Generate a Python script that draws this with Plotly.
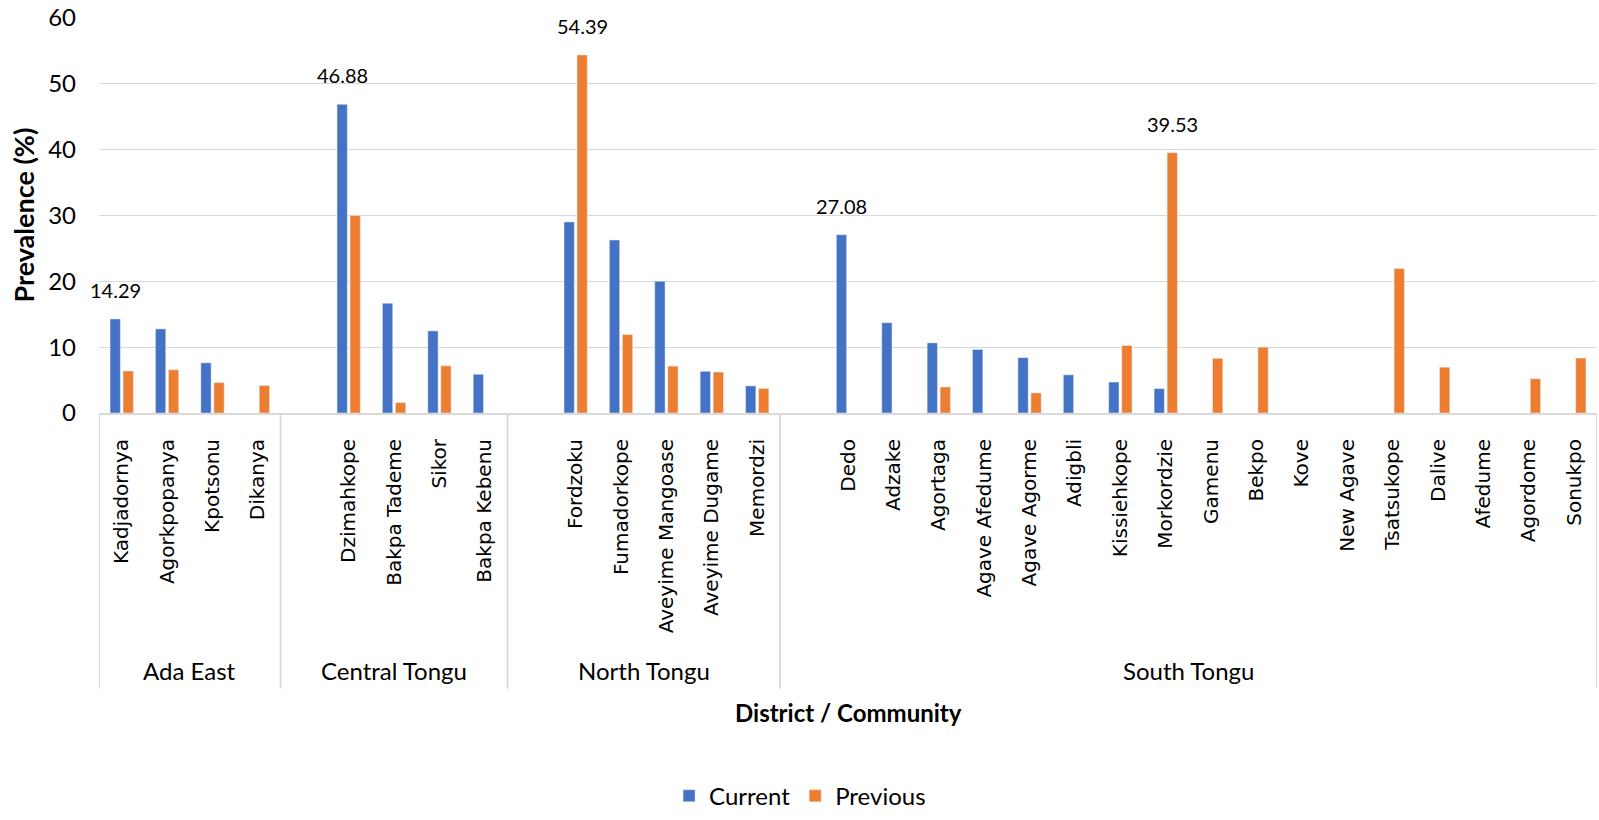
import plotly.graph_objects as go

districts = ["Ada East", "Central Tongu", "North Tongu", "South Tongu"]
communities = [
    ["Kadjadornya", "Agorkpopanya", "Kpotsonu", "Dikanya"],
    ["Dzimahkope", "Bakpa Tademe", "Sikor", "Bakpa Kebenu"],
    ["Fordzoku", "Fumadorkope", "Aveyime Mangoase", "Aveyime Dugame", "Memordzi"],
    ["Dedo", "Adzake", "Agortaga", "Agave Afedume", "Agave Agorme", "Adigbli",
     "Kissiehkope", "Morkordzie", "Gamenu", "Bekpo", "Kove", "New Agave",
     "Tsatsukope", "Dalive", "Afedume", "Agordome", "Sonukpo"],
]
current = [
    [14.29, 12.77, 7.62, None],
    [46.88, 16.67, 12.47, 5.88],
    [29.03, 26.27, 20.0, 6.33, 4.12],
    [27.08, 13.72, 10.65, 9.65, 8.40, 5.80, 4.70, 3.70, None, None, None, None,
     None, None, None, None, None],
]
previous = [
    [6.38, 6.57, 4.62, 4.17],
    [30.0, 1.57, 7.17, None],
    [54.39, 11.92, 7.12, 6.22, 3.72],
    [None, None, 3.95, None, 3.05, None, 10.25, 39.53, 8.30, 10.0, None, None,
     21.95, 6.95, None, 5.20, 8.35],
]
# labelled bars: (community, series)
labelled = [("Kadjadornya", "Current"), ("Dzimahkope", "Current"),
            ("Fordzoku", "Previous"), ("Dedo", "Current"), ("Morkordzie", "Previous")]

BLUE = "#4472C4"
ORANGE = "#ED7D31"
GRID = "#D9D9D9"
TXT = "#000000"

# build category list with a blank slot opening every district after the first
cats, ticktext, cur_vals, prev_vals = [], [], [], []
group_spans = []
for gi, (d, comms) in enumerate(zip(districts, communities)):
    start = len(cats)
    if gi > 0:
        cats.append(f"_gap{gi}")
        ticktext.append("")
        cur_vals.append(None)
        prev_vals.append(None)
    for c, cv, pv in zip(comms, current[gi], previous[gi]):
        cats.append(c)
        ticktext.append(c)
        cur_vals.append(cv)
        prev_vals.append(pv)
    group_spans.append((d, start - 0.5, len(cats) - 0.5))

fig = go.Figure()
fig.add_trace(go.Bar(name="Current", x=cats, y=cur_vals, marker_color=BLUE))
fig.add_trace(go.Bar(name="Previous", x=cats, y=prev_vals, marker_color=ORANGE))

annotations = []
lookup = {"Current": dict(zip(cats, cur_vals)), "Previous": dict(zip(cats, prev_vals))}
for comm, series in labelled:
    v = lookup[series][comm]
    annotations.append(dict(
        x=comm, y=v, xref="x", yref="y", text=f"{v:.2f}", showarrow=False,
        xshift=-6.5 if series == "Current" else 6.5, yshift=29,
        yanchor="middle", font=dict(family="Lato", size=20, color=TXT)))

shapes = []
div_bottom = -0.6975
edges = sorted(set([s[1] for s in group_spans] + [s[2] for s in group_spans]))
for e in edges:
    shapes.append(dict(type="line", xref="x", yref="paper", x0=e, x1=e,
                       y0=0, y1=div_bottom, line=dict(color=GRID, width=2)))
for d, a, b in group_spans:
    annotations.append(dict(
        x=(a + b) / 2, y=-0.6525, xref="x", yref="paper", text=d, showarrow=False,
        yanchor="middle", font=dict(family="Lato", size=24, color=TXT)))

annotations.append(dict(
    x=0.5, y=-0.7575, xref="paper", yref="paper", text="<b>District / Community</b>",
    showarrow=False, yanchor="middle", font=dict(family="Lato", size=24, color=TXT)))
annotations.append(dict(
    x=-0.0507, y=0.5, xref="paper", yref="paper", text="<b>Prevalence (%)</b>",
    textangle=-90, showarrow=False, xanchor="center", yanchor="middle",
    font=dict(family="Lato", size=27, color=TXT)))

fig.update_layout(
    width=1599, height=820,
    margin=dict(l=99, r=2, t=18, b=402),
    paper_bgcolor="white", plot_bgcolor="white",
    barmode="group", bargap=0.427, bargroupgap=0.21,
    showlegend=True,
    legend=dict(orientation="h", x=0.468, xanchor="center", y=-0.97, yanchor="middle",
                font=dict(family="Lato", size=24, color=TXT),
                itemwidth=30, traceorder="normal"),
    annotations=annotations, shapes=shapes,
    xaxis=dict(type="category", categoryorder="array", categoryarray=cats,
               tickmode="array", tickvals=cats, ticktext=ticktext,
               tickangle=-90, ticks="outside", ticklen=16,
               tickcolor="rgba(0,0,0,0)",
               tickfont=dict(family="DejaVu Sans", size=20, color=TXT),
               showline=True, linecolor=GRID, linewidth=2, showgrid=False,
               range=[-0.5, len(cats) - 0.5]),
    yaxis=dict(range=[0, 60], dtick=10, showgrid=True, gridcolor=GRID, gridwidth=1,
               zeroline=False, showline=False, ticks="", ticklabelstandoff=22,
               tickfont=dict(family="Lato", size=24, color=TXT)),
    font=dict(family="Lato", color=TXT),
)

fig.write_html("out.html")
